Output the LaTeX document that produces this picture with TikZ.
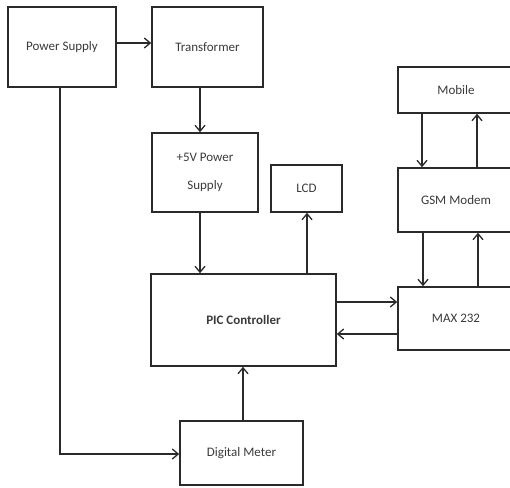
\documentclass[tikz,border=0pt]{standalone}
\usepackage{fontspec}
\setmainfont{Carlito}
\usetikzlibrary{arrows.meta}
\definecolor{linec}{HTML}{2A2A2A}
\definecolor{textc}{HTML}{3A3A3A}
\begin{document}
\begin{tikzpicture}[x=1pt,y=-1pt,
  blk/.style={draw=linec,line width=1.5pt,inner sep=0pt,text=textc,
    font=\fontsize{13}{28}\selectfont,align=center},
  arr/.style={draw=linec,line width=1.3pt,-{Straight Barb[length=6pt,width=10pt,line width=1.3pt]}}]
\useasboundingbox (0,0) rectangle (510,487);
\clip (0,0) rectangle (510,487);
\node[blk,minimum width=108pt,minimum height=80pt] (ps) at (62,47) {Power Supply};
\node[blk,minimum width=111pt,minimum height=80pt] (tr) at (207.5,47) {Transformer};
\node[blk,minimum width=106pt,minimum height=79pt] (p5) at (205,172.5) {+5V Power\\Supply};
\node[blk,minimum width=71pt,minimum height=47pt] (lcd) at (306.5,188.5) {LCD};
\node[blk,minimum width=116pt,minimum height=46pt] (mob) at (456,90) {Mobile};
\node[blk,minimum width=116pt,minimum height=64pt] (gsm) at (456,200) {GSM Modem};
\node[blk,minimum width=185pt,minimum height=92pt] (pic) at (243.5,320) {\bfseries PIC Controller};
\node[blk,minimum width=116pt,minimum height=63pt] (max) at (456,318.5) {MAX 232};
\node[blk,minimum width=123pt,minimum height=64pt] (dm) at (241.5,453) {Digital Meter};
\draw[arr] ([yshift=4pt]ps.east) -- ([yshift=4pt]tr.west);
\draw[arr] ([xshift=-7.5pt]tr.south) -- ([xshift=-7.5pt]tr.south |- p5.north);
\draw[arr] ([xshift=-5pt]p5.south) -- ([xshift=-5pt]p5.south |- pic.north);
\draw[arr] ([xshift=0.5pt]lcd.south |- pic.north) -- ([xshift=0.5pt]lcd.south);
\draw[arr] ([xshift=-34pt]mob.south) -- ([xshift=-34pt]mob.south |- gsm.north);
\draw[arr] ([xshift=21pt]gsm.north) -- ([xshift=21pt]gsm.north |- mob.south);
\draw[arr] ([xshift=-33pt]gsm.south) -- ([xshift=-33pt]gsm.south |- max.north);
\draw[arr] ([xshift=22pt]max.north) -- ([xshift=22pt]max.north |- gsm.south);
\draw[arr] ([yshift=18pt]pic.east) -- ([yshift=18pt]pic.east -| max.west);
\draw[arr] ([yshift=-15.5pt]max.west) -- ([yshift=-15.5pt]max.west -| pic.east);
\draw[arr] ([xshift=1.5pt]dm.north) -- ([xshift=1.5pt]dm.north |- pic.south);
\draw[arr] ([xshift=-2pt]ps.south) |- ([yshift=-1pt]dm.west);
\end{tikzpicture}
\end{document}
